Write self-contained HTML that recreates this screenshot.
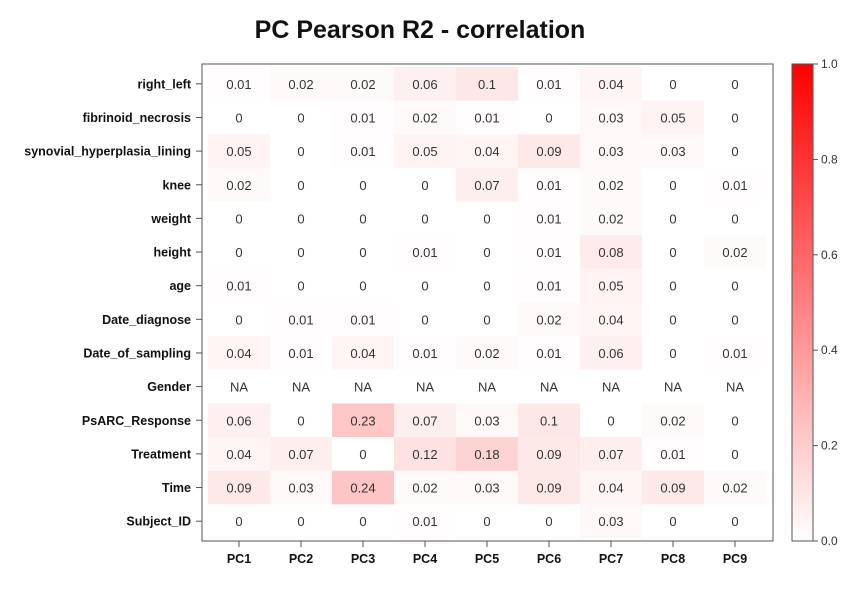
<!DOCTYPE html>
<html><head><meta charset="utf-8"><style>
body{margin:0;background:#fff;}
svg text{font-family:"Liberation Sans",sans-serif;}
</style></head><body>
<svg id="c" width="867" height="588">
<text x="420" y="38" text-anchor="middle" font-size="25" font-weight="bold" fill="#111">PC Pearson R2 - correlation</text>
<g id="cells"></g><g id="labels"></g>
<rect x="202" y="64" width="571" height="477" fill="none" stroke="#555" stroke-width="1"/>
<defs><linearGradient id="g" x1="0" y1="1" x2="0" y2="0"><stop offset="0" stop-color="#fff"/><stop offset="1" stop-color="#f00"/></linearGradient></defs>
<rect x="792" y="64" width="21" height="477" fill="url(#g)" stroke="#555"/>
<g id="cb"></g>
</svg>
<script>
const rows=["right_left","fibrinoid_necrosis","synovial_hyperplasia_lining","knee","weight","height","age","Date_diagnose","Date_of_sampling","Gender","PsARC_Response","Treatment","Time","Subject_ID"];
const cols=["PC1","PC2","PC3","PC4","PC5","PC6","PC7","PC8","PC9"];
const values=[
[0.01,0.02,0.02,0.06,0.1,0.01,0.04,0,0],
[0,0,0.01,0.02,0.01,0,0.03,0.05,0],
[0.05,0,0.01,0.05,0.04,0.09,0.03,0.03,0],
[0.02,0,0,0,0.07,0.01,0.02,0,0.01],
[0,0,0,0,0,0.01,0.02,0,0],
[0,0,0,0.01,0,0.01,0.08,0,0.02],
[0.01,0,0,0,0,0.01,0.05,0,0],
[0,0.01,0.01,0,0,0.02,0.04,0,0],
[0.04,0.01,0.04,0.01,0.02,0.01,0.06,0,0.01],
[null,null,null,null,null,null,null,null,null],
[0.06,0,0.23,0.07,0.03,0.1,0,0.02,0],
[0.04,0.07,0,0.12,0.18,0.09,0.07,0.01,0],
[0.09,0.03,0.24,0.02,0.03,0.09,0.04,0.09,0.02],
[0,0,0,0.01,0,0,0.03,0,0]];
const cbTicks=[0,0.2,0.4,0.6,0.8,1.0];
const L=208,T=67,W=558,H=471,NS="http://www.w3.org/2000/svg";
const cw=W/cols.length,rh=H/rows.length;
const xs=i=>L+i*cw, ys=j=>T+j*rh;
const cells=document.getElementById('cells'),lab=document.getElementById('labels'),cb=document.getElementById('cb');
function mk(tag,a,p){const e=document.createElementNS(NS,tag);for(const k in a)e.setAttribute(k,a[k]);p.appendChild(e);return e;}
rows.forEach((r,j)=>{
 const t=mk('text',{x:191,y:ys(j)+rh/2+4.5,'text-anchor':'end','font-size':12.5,'font-weight':'bold',fill:'#111'},lab);t.textContent=r;
 
 
 mk('line',{x1:196,x2:202,y1:ys(j)+rh/2,y2:ys(j)+rh/2,stroke:'#555'},lab);
 cols.forEach((c,i)=>{
  const v=values[j][i];
  if(v!==null&&v>0){const re=mk('rect',{x:xs(i),y:ys(j),width:cw,height:rh,fill:`rgba(245,0,0,${v*0.95})`},cells);
   
   }
  const tx=mk('text',{x:xs(i)+cw/2,y:ys(j)+rh/2+5,'text-anchor':'middle','font-size':13,fill:'#333'},lab);
  tx.textContent=v===null?'NA':String(v);
  
  
 });
});
cols.forEach((c,i)=>{
 mk('line',{x1:xs(i)+cw/2,x2:xs(i)+cw/2,y1:541,y2:547,stroke:'#555'},lab);
 const t=mk('text',{x:xs(i)+cw/2,y:563,'text-anchor':'middle','font-size':12.5,'font-weight':'bold',fill:'#111'},lab);t.textContent=c;
 
 
});
cbTicks.forEach(v=>{
 const y=64+477-v*477;
 mk('line',{x1:813,x2:818,y1:y,y2:y,stroke:'#555'},cb);
 const t=mk('text',{x:821,y:y+4,'font-size':12,fill:'#333'},cb);t.textContent=v.toFixed(1);
 
 
});
</script>
</body></html>
